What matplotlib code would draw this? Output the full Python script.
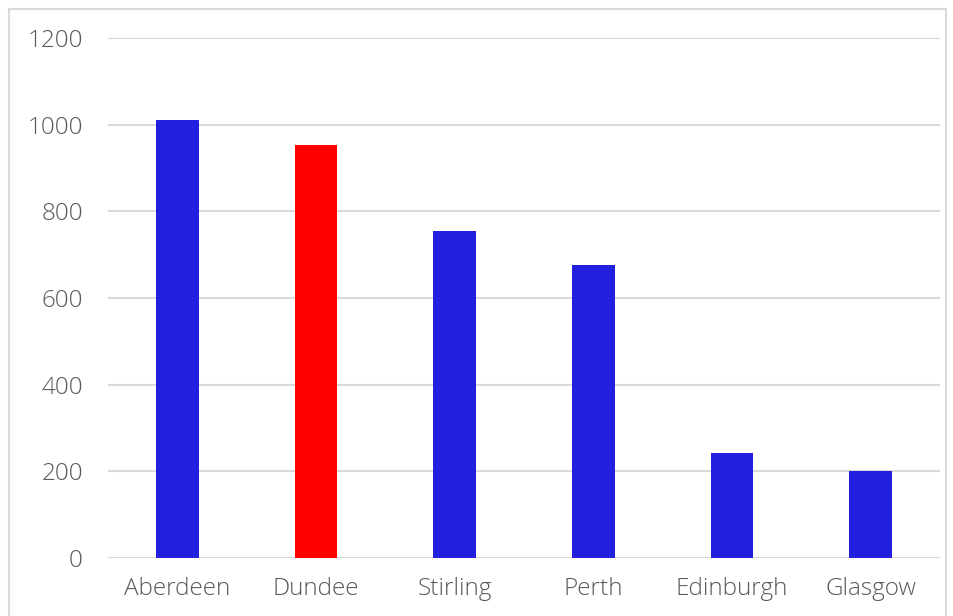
import matplotlib.pyplot as plt
from matplotlib.patches import Rectangle

# population figures per city
ciudades = ["Aberdeen", "Dundee", "Stirling", "Perth", "Edinburgh", "Glasgow"]
valores = [1010, 954, 754, 677, 242, 200]
colores = ["#2220dc", "#ff0000", "#2220dc", "#2220dc", "#2220dc", "#2220dc"]
marcas_y = [0, 200, 400, 600, 800, 1000, 1200]

plt.rcParams['font.family'] = ['Open Sans', 'DejaVu Sans']
plt.rcParams['font.weight'] = 'light'

fig = plt.figure(figsize=(9.54, 6.16), dpi=100)
ax = fig.add_axes([108/954, 1-558/616, 832/954, 520/616])

# grid lines behind the bars
for v in marcas_y:
    ax.axhline(v, color="#d9d9d9", linewidth=1.5, zorder=0)

ax.bar(range(len(ciudades)), valores, width=0.31, color=colores, zorder=2)

ax.set_xlim(-0.5, len(ciudades) - 0.5)
ax.set_ylim(0, 1200)
ax.set_yticks(marcas_y)
ax.set_xticks(range(len(ciudades)))
ax.set_xticklabels(ciudades)
ax.tick_params(axis="both", length=0, labelsize=17.5, labelcolor="#595959")
ax.tick_params(axis="y", pad=18)
ax.tick_params(axis="x", pad=14)
for s in ax.spines.values():
    s.set_visible(False)

# light frame around the chart
fig.patches.append(Rectangle((9/954, -0.01), 937/954, 1 - 9/616 + 0.01,
                             transform=fig.transFigure, fill=False,
                             edgecolor="#d9d9d9", linewidth=1.5))

fig.savefig("out.png", dpi=100)
